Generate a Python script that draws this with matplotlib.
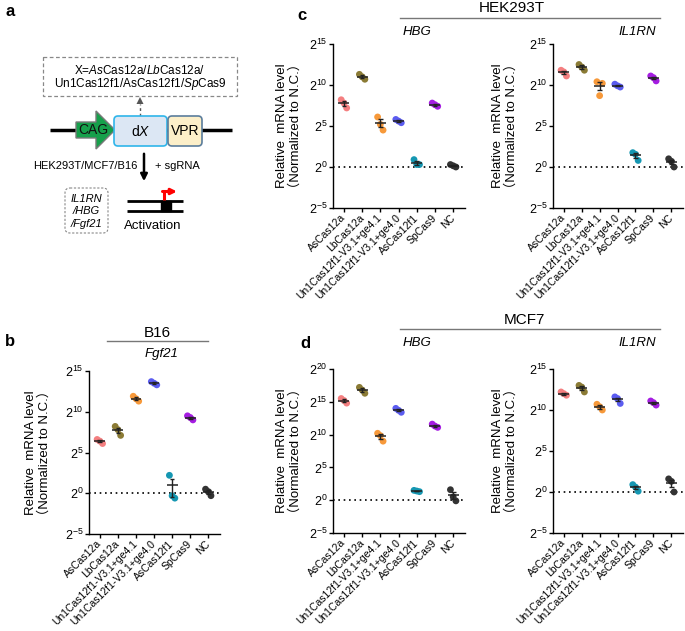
import matplotlib
matplotlib.use('Agg')
import matplotlib.pyplot as plt
import numpy as np
from matplotlib.patches import FancyBboxPatch, Polygon, Rectangle
from matplotlib.lines import Line2D
from matplotlib.ticker import NullLocator

plt.rcParams['font.family'] = ['Liberation Sans', 'Noto Sans CJK SC']
plt.rcParams['mathtext.fontset'] = 'custom'
plt.rcParams['mathtext.rm'] = 'Liberation Sans'
plt.rcParams['mathtext.it'] = 'Liberation Sans:italic'
plt.rcParams['mathtext.bf'] = 'Liberation Sans:bold'

# ---------------- data ----------------
categories = ['AsCas12a', 'LbCas12a', 'Un1Cas12f1-V3.1+ge4.1',
              'Un1Cas12f1-V3.1+ge4.0', 'AsCas12f1', 'SpCas9', 'NC']
colors = ['#f47f80', '#8b7b35', '#f7993a', '#5b5cf0', '#1597b2', '#a51de2', '#333333']

# log2 relative mRNA level, three replicates per category
b16_fgf21 = [[6.6, 6.4, 6.1], [8.2, 7.8, 7.1], [11.9, 11.6, 11.3], [13.7, 13.5, 13.3],
             [2.2, -0.3, -0.6], [9.5, 9.3, 9.0], [0.5, 0.2, -0.3]]
hek_hbg = [[8.2, 7.8, 7.2], [11.3, 11.0, 10.7], [6.1, 5.2, 4.5], [5.8, 5.6, 5.4],
           [0.9, 0.3, 0.3], [7.8, 7.6, 7.4], [0.3, 0.15, 0.0]]
hek_il1rn = [[11.8, 11.6, 11.1], [12.5, 12.2, 11.8], [10.4, 8.7, 10.2], [10.1, 9.9, 9.75],
             [1.75, 1.55, 0.8], [11.1, 10.9, 10.5], [1.0, 0.7, 0.0]]
mcf_hbg = [[15.5, 15.2, 14.8], [17.2, 16.8, 16.3], [10.2, 9.85, 9.0], [14.0, 13.7, 13.4],
           [1.5, 1.4, 1.3], [11.6, 11.3, 11.1], [1.6, 0.5, -0.1]]
mcf_il1rn = [[12.2, 12.0, 11.8], [13.0, 12.8, 12.2], [10.7, 10.4, 10.0], [11.6, 11.4, 10.8],
             [0.9, 0.6, 0.1], [11.1, 10.9, 10.6], [1.6, 1.3, 0.0]]

W, H = 685, 631
fig = plt.figure(figsize=(W / 100, H / 100), dpi=100)


def px_axes(x0, y0, x1, y1):
    return fig.add_axes([x0 / W, 1 - y1 / H, (x1 - x0) / W, (y1 - y0) / H])


def ftxt(x, y, s, **kw):
    fig.text(x / W, 1 - y / H, s, **kw)


def fline(x0, x1, y, **kw):
    fig.add_artist(Line2D([x0 / W, x1 / W], [1 - y / H, 1 - y / H],
                          transform=fig.transFigure, **kw))


offsets = np.array([-0.15, 0.0, 0.15])


def draw_panel(ax, data, ymax, labelpad=8):
    ax.set_yscale('log', base=2)
    for i, (vals, c) in enumerate(zip(data, colors)):
        lin = 2.0 ** np.array(vals)
        m = lin.mean()
        sem = lin.std(ddof=1) / np.sqrt(len(lin))
        ax.scatter(i + offsets, lin, s=24, color=c, zorder=3, edgecolors='none')
        lo = max(m - sem, 2.0 ** -5)
        ax.hlines(m, i - 0.3, i + 0.3, color='#222222', lw=1.1, zorder=4)
        ax.vlines(i, lo, m + sem, color='#222222', lw=1.0, zorder=4)
        ax.hlines([lo, m + sem], i - 0.13, i + 0.13, color='#222222', lw=1.0, zorder=4)
    ax.axhline(1, color='black', ls=(0, (1, 2.2)), lw=1.2, zorder=1)
    ax.set_xlim(-0.6, 6.65)
    ax.set_ylim(2.0 ** -5, 2.0 ** ymax)
    ticks = list(range(-5, ymax + 1, 5))
    ax.set_yticks([2.0 ** k for k in ticks])
    ax.set_yticklabels([r'$\mathregular{2^{%d}}$' % k for k in ticks], fontsize=9)
    ax.yaxis.set_minor_locator(NullLocator())
    ax.set_xticks(range(len(categories)))
    ax.set_xticklabels(categories, rotation=45, ha='right', va='center',
                       rotation_mode='anchor', fontsize=7.5)
    ax.tick_params(axis='x', length=3, width=1, pad=3)
    ax.tick_params(axis='y', length=3, width=1, pad=1)
    for s in ['top', 'right']:
        ax.spines[s].set_visible(False)
    for s in ['left', 'bottom']:
        ax.spines[s].set_linewidth(1.0)
    ax.set_ylabel('Relative  mRNA level\n（Normalized to N.C.）', fontsize=9.5,
                  labelpad=labelpad, linespacing=1.1)


ax_c1 = px_axes(333, 44, 465, 208)
draw_panel(ax_c1, hek_hbg, 15, labelpad=5)
ax_c2 = px_axes(553, 44, 683, 208)
draw_panel(ax_c2, hek_il1rn, 15, labelpad=8)
ax_b = px_axes(89, 371, 220, 534)
draw_panel(ax_b, b16_fgf21, 15, labelpad=10)
ax_d1 = px_axes(333, 369, 465, 533)
draw_panel(ax_d1, mcf_hbg, 20, labelpad=5)
ax_d2 = px_axes(553, 369, 683, 533)
draw_panel(ax_d2, mcf_il1rn, 15, labelpad=8)

# headers
ftxt(512, 8, 'HEK293T', ha='center', va='center', fontsize=11)
fline(400, 660, 18, color='#777777', lw=1)
ftxt(417, 32, 'HBG', ha='center', va='center', fontsize=9.5, style='italic')
ftxt(637, 32, 'IL1RN', ha='center', va='center', fontsize=9.5, style='italic')

ftxt(157, 333, 'B16', ha='center', va='center', fontsize=11)
fline(107, 208, 341, color='#777777', lw=1)
ftxt(162, 354, 'Fgf21', ha='center', va='center', fontsize=9.5, style='italic')

ftxt(524, 320, 'MCF7', ha='center', va='center', fontsize=11)
fline(400, 660, 329, color='#777777', lw=1)
ftxt(417, 343, 'HBG', ha='center', va='center', fontsize=9.5, style='italic')
ftxt(637, 343, 'IL1RN', ha='center', va='center', fontsize=9.5, style='italic')

# panel letters
for x, y, s in [(5, 12, 'a'), (5, 342, 'b'), (297, 15, 'c'), (300, 343, 'd')]:
    ftxt(x, y, s, ha='left', va='center', fontsize=12, fontweight='bold')

# ---------------- panel a schematic ----------------
axa = px_axes(0, 0, 260, 290)
axa.set_xlim(0, 260)
axa.set_ylim(290, 0)
axa.axis('off')

axa.add_patch(Rectangle((43, 57), 194, 39, fill=False, ls=(0, (3, 2)), ec='#888888', lw=0.9))
axa.text(140, 71, r'X=$\mathit{As}$Cas12a/$\mathit{Lb}$Cas12a/', ha='center', va='center', fontsize=8.5)
axa.text(140, 84, r'Un1Cas12f1/AsCas12f1/$\mathit{Sp}$Cas9', ha='center', va='center', fontsize=8.5)
axa.plot([140, 140], [116, 104], ls=(0, (2, 2)), color='#555555', lw=1)
axa.add_patch(Polygon([(136.5, 104), (143.5, 104), (140, 97)], closed=True, fc='#555555', ec='none'))

axa.plot([50, 232], [130, 130], color='black', lw=2.5, zorder=1, solid_capstyle='butt')
axa.add_patch(Polygon([(76, 122), (96, 122), (96, 111), (115, 130), (96, 149), (96, 138), (76, 138)],
                      closed=True, fc='#16a04b', ec='#7a7a7a', lw=1, zorder=2))
axa.text(93, 130, 'CAG', ha='center', va='center', fontsize=10, color='#111111', zorder=3)
axa.add_patch(FancyBboxPatch((114, 116), 53, 30, boxstyle='round,pad=0,rounding_size=4',
                             fc='#dce7f4', ec='#2fb5ea', lw=1.2, zorder=2))
axa.text(140.5, 131, r'd$\mathit{X}$', ha='center', va='center', fontsize=10, zorder=3)
axa.add_patch(FancyBboxPatch((168, 116), 34, 30, boxstyle='round,pad=0,rounding_size=4',
                             fc='#fcefc9', ec='#5b7d9c', lw=1.2, zorder=2))
axa.text(185, 131, 'VPR', ha='center', va='center', fontsize=10, zorder=3)

axa.annotate('', xy=(144, 184), xytext=(144, 151),
             arrowprops=dict(arrowstyle='-|>', color='black', lw=1.8, mutation_scale=10))
axa.text(138, 166, 'HEK293T/MCF7/B16', ha='right', va='center', fontsize=8)
axa.text(155, 166, '+ sgRNA', ha='left', va='center', fontsize=8)

axa.add_patch(FancyBboxPatch((65, 188), 43, 45, boxstyle='round,pad=0,rounding_size=5',
                             fill=False, ls=(0, (2, 1.5)), ec='#888888', lw=0.8))
axa.text(86, 199, 'IL1RN', ha='center', va='center', fontsize=8, style='italic')
axa.text(86, 211, '/HBG', ha='center', va='center', fontsize=8, style='italic')
axa.text(86, 224, '/Fgf21', ha='center', va='center', fontsize=8, style='italic')

axa.plot([127, 183], [201, 201], color='black', lw=2, solid_capstyle='butt')
axa.plot([127, 183], [211, 211], color='black', lw=2, solid_capstyle='butt')
axa.add_patch(Rectangle((161, 201), 10, 10, fc='black', ec='black'))
axa.plot([163.5, 163.5], [200, 191.5], color='red', lw=2.2, solid_capstyle='butt')
axa.annotate('', xy=(177, 191.5), xytext=(162.5, 191.5),
             arrowprops=dict(arrowstyle='-|>', color='red', lw=2.2, mutation_scale=8,
                             shrinkA=0, shrinkB=0))
axa.text(153, 226, 'Activation', ha='center', va='center', fontsize=9.5)

fig.savefig('out.png', dpi=100)
